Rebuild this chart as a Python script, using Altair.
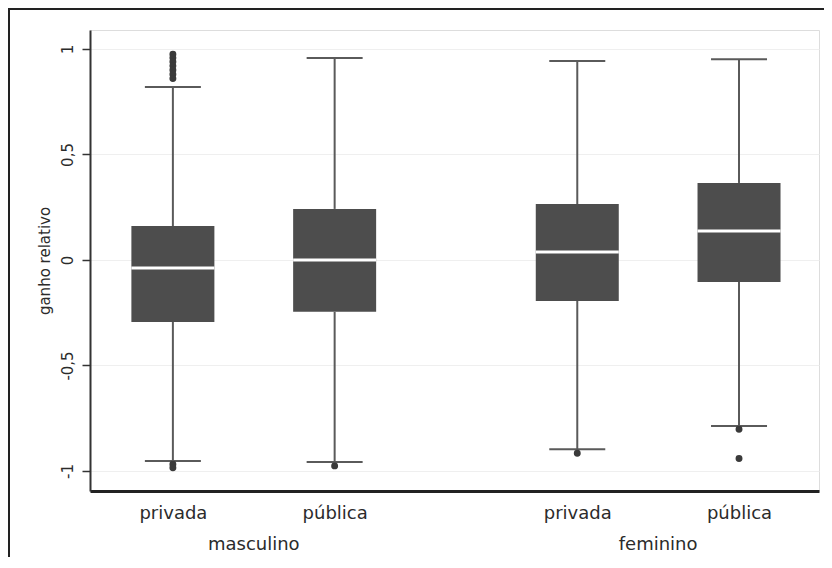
import altair as alt
import pandas as pd

# ---- data ----
grupos = ["masculino", "masculino", "feminino", "feminino"]
setores = ["privada", "pública", "privada", "pública"]
bigode_inf = [-0.953, -0.957, -0.897, -0.787]
q1 = [-0.294, -0.246, -0.194, -0.104]
mediana = [-0.038, 0.0, 0.038, 0.137]
q3 = [0.161, 0.242, 0.265, 0.365]
bigode_sup = [0.820, 0.957, 0.943, 0.951]

out_grupo = ["masculino"] * 9 + ["masculino"] + ["feminino"] + ["feminino"] * 2
out_setor = ["privada"] * 9 + ["pública"] + ["privada"] + ["pública"] * 2
out_valor = [0.975, 0.958, 0.94, 0.92, 0.90, 0.88, 0.86, -0.968, -0.985,
             -0.976, -0.916, -0.802, -0.941]

y_ticks = [-1, -0.5, 0, 0.5, 1]

ordem_grupos = ["masculino", "feminino"]
ordem_setores = ["privada", "pública"]


def slot(g, s):
    return ordem_grupos.index(g) * 5 + ordem_setores.index(s) * 2


box = pd.DataFrame({
    "grupo": grupos, "setor": setores, "lo": bigode_inf, "q1": q1,
    "med": mediana, "q3": q3, "hi": bigode_sup,
})
box["slot"] = [slot(g, s) for g, s in zip(grupos, setores)]

out = pd.DataFrame({"grupo": out_grupo, "setor": out_setor, "v": out_valor})
out["slot"] = [slot(g, s) for g, s in zip(out_grupo, out_setor)]

glab = box.groupby("grupo", sort=False)["slot"].mean().reset_index()

slots = list(box["slot"])
label_expr = ""
for sl, st in zip(slots, setores):
    label_expr += f"datum.value == {sl} ? '{st}' : "
label_expr += "''"

W, H = 729, 461
FONT = "DejaVu Sans"
DARK = "#4d4d4d"
LINE = "#5a5a5a"

x_scale = alt.Scale(domain=[-0.963, 7.927], nice=False, zero=False)
y_scale = alt.Scale(domain=[-1.095, 1.090], nice=False, zero=False)

x_axis = alt.Axis(values=slots, labelExpr=label_expr, grid=False, ticks=False,
                  tickSize=0, domainWidth=3, domainColor="#222",
                  labelPadding=27, labelBaseline="alphabetic", labelFontSize=18,
                  labelFont=FONT, labelColor="#2b2b2b", title=None,
                  labelFlush=False)
y_axis = alt.Axis(values=y_ticks, labelExpr="replace(toString(datum.value), '.', ',')",
                  labelAngle=270, labelAlign="center", labelBaseline="alphabetic",
                  labelPadding=10, labelFontSize=15, labelFont=FONT,
                  labelColor="#2b2b2b", tickSize=8, tickColor="#333",
                  tickWidth=1.5, domainColor="#333", domainWidth=2,
                  grid=True, gridColor="#efefef", gridWidth=1,
                  titleAngle=270, titleX=-40.5, titleY=H / 2, titleAlign="center",
                  titleBaseline="alphabetic", titleFontSize=15,
                  titleFont=FONT, titleFontWeight="normal", titleColor="#2b2b2b")

X = alt.X("slot:Q", scale=x_scale, axis=x_axis)


def Y(f):
    return alt.Y(f, type="quantitative", scale=y_scale, axis=y_axis,
                 title="ganho relativo")


base = alt.Chart(box)

w_up = base.mark_rule(color=LINE, strokeWidth=2).encode(x=X, y=Y("q3"), y2="hi")
w_dn = base.mark_rule(color=LINE, strokeWidth=2).encode(x=X, y=Y("lo"), y2="q1")
cap_up = base.mark_tick(orient="horizontal", size=56, thickness=2,
                        color=LINE, opacity=1).encode(x=X, y=Y("hi"))
cap_dn = base.mark_tick(orient="horizontal", size=56, thickness=2,
                        color=LINE, opacity=1).encode(x=X, y=Y("lo"))
boxes = base.mark_bar(size=83, color=DARK).encode(x=X, y=Y("q1"), y2="q3")
meds = base.mark_tick(orient="horizontal", size=83, thickness=3,
                      color="white", opacity=1).encode(x=X, y=Y("med"))
pts = alt.Chart(out).mark_circle(size=48, color="#3a3a3a", opacity=1).encode(
    x=X, y=Y("v"))

grp = alt.Chart(glab).mark_text(fontSize=18, font=FONT, color="#2b2b2b",
                                baseline="alphabetic", align="center").encode(
    x=X, y=alt.value(H + 59), text="grupo:N")

frame = alt.Chart(pd.DataFrame({"k": [0]})).mark_rect(
    fillOpacity=0, stroke="#222", strokeWidth=2).encode(
    x=alt.value(-81), x2=alt.value(W + 100),
    y=alt.value(-21), y2=alt.value(H + 200))

chart = alt.layer(w_up, w_dn, cap_up, cap_dn, boxes, meds, pts, grp, frame).properties(
    width=W, height=H,
    autosize=alt.AutoSizeParams(type="none"),
    padding={"left": 82, "top": 22, "right": 5, "bottom": 66},
).configure_view(stroke="#3a3a3a", strokeWidth=2).configure(background="white")

chart.save("out.html", embed_options={"renderer": "svg", "actions": False})
